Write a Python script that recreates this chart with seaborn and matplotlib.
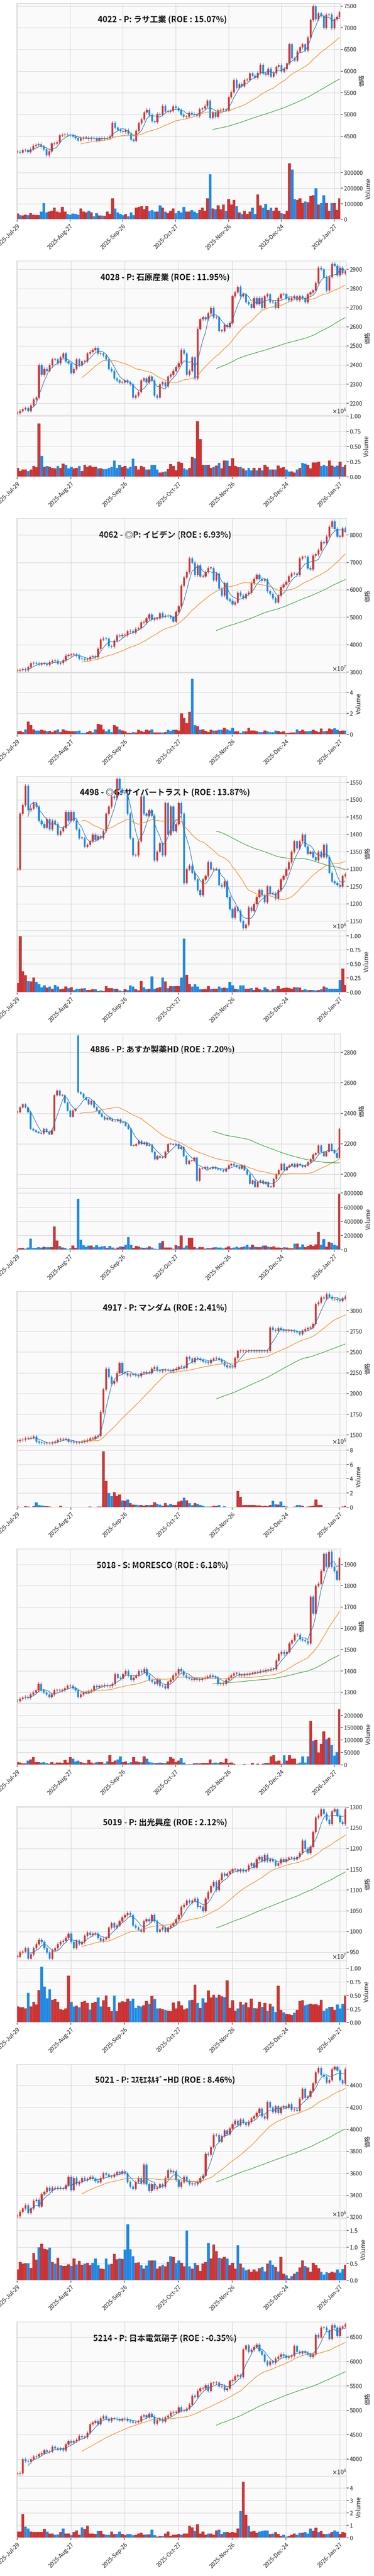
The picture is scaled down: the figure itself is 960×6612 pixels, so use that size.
import numpy as np
import pandas as pd
import matplotlib
matplotlib.use("Agg")
import matplotlib.pyplot as plt
import seaborn as sns

N = 123
tick_pos = [0, 20, 40, 60, 80, 100, 120]
tick_labels = ["2025-Jul-29", "2025-Aug-27", "2025-Sep-26", "2025-Oct-27",
               "2025-Nov-26", "2025-Dec-24", "2026-Jan-27"]

titles = ["4022 - P: ラサ工業 (ROE : 15.07%)",
          "4028 - P: 石原産業 (ROE : 11.95%)",
          "4062 - ◎P: イビデン (ROE : 6.93%)",
          "4498 - ◎G: サイバートラスト (ROE : 13.87%)",
          "4886 - P: あすか製薬HD (ROE : 7.20%)",
          "4917 - P: マンダム (ROE : 2.41%)",
          "5018 - S: MORESCO (ROE : 6.18%)",
          "5019 - P: 出光興産 (ROE : 2.12%)",
          "5021 - P: ｺｽﾓｴﾈﾙｷﾞｰHD (ROE : 8.46%)",
          "5214 - P: 日本電気硝子 (ROE : -0.35%)"]

c_4022 = [4140,4130,4180,4180,4140,4200,4280,4300,4320,4260,4200,4060,4150,4330,4330,4360,4520,4530,4540,4530,
          4520,4500,4460,4410,4450,4470,4470,4440,4460,4450,4400,4460,4440,4450,4460,4500,4810,4700,4650,4620,
          4600,4640,4560,4420,4400,4630,4800,4890,5050,5110,4990,4850,4830,5020,5000,5200,5070,5070,5080,5190,
          5150,5100,5000,4950,4950,5040,5020,5010,4970,5120,5140,5200,5320,4930,5050,4950,5100,5110,5120,5100,
          5400,5520,5800,5620,5700,5650,5800,5800,5950,5900,5850,5960,6150,5950,5920,6060,5880,5960,6100,6140,
          6000,6050,6180,6620,6300,6250,6450,6550,6620,6480,6780,7180,7500,7200,7330,7280,7000,7300,7310,6990,
          7200,7250,7360]
v_4022 = [38,28,25,30,27,40,30,28,28,50,105,45,50,55,75,50,45,80,50,35,
          30,38,35,30,70,50,45,55,45,20,40,25,25,22,50,35,135,70,45,35,
          28,35,20,45,28,75,80,85,65,85,55,60,50,50,90,75,50,40,55,70,
          40,55,45,80,50,50,60,50,40,60,75,55,135,290,70,65,90,65,95,55,
          130,95,125,85,45,35,55,35,50,75,35,160,90,75,100,60,75,55,75,55,
          40,35,55,360,320,130,125,135,105,115,110,150,155,200,95,105,155,105,55,105,
          105,60,135]

c_4028 = [2150,2160,2170,2175,2160,2190,2220,2230,2400,2350,2380,2370,2400,2430,2430,2410,2440,2460,2420,2410,
          2360,2380,2430,2400,2420,2420,2460,2470,2480,2490,2460,2460,2450,2430,2380,2370,2330,2320,2310,2310,
          2320,2310,2300,2230,2240,2260,2320,2330,2310,2340,2320,2240,2230,2300,2310,2290,2340,2350,2370,2390,
          2410,2480,2460,2350,2370,2440,2330,2590,2640,2650,2640,2670,2700,2650,2650,2580,2580,2610,2600,2620,
          2760,2780,2810,2760,2770,2730,2720,2700,2750,2720,2750,2700,2760,2770,2730,2730,2700,2750,2770,2770,
          2750,2740,2750,2760,2740,2760,2750,2730,2770,2780,2790,2830,2910,2900,2860,2790,2860,2930,2920,2870,
          2910,2880,2890]
v_4028 = [0.15,0.1,0.12,0.12,0.1,0.12,0.18,0.16,0.88,0.35,0.17,0.18,0.17,0.15,0.14,0.18,0.15,0.22,0.2,0.14,
          0.17,0.14,0.15,0.18,0.1,0.2,0.17,0.19,0.16,0.17,0.14,0.14,0.13,0.13,0.15,0.17,0.27,0.15,0.2,0.16,
          0.18,0.14,0.17,0.3,0.18,0.12,0.18,0.16,0.12,0.12,0.2,0.2,0.12,0.07,0.08,0.09,0.13,0.21,0.18,0.11,
          0.25,0.23,0.14,0.12,0.15,0.33,0.31,0.92,0.62,0.2,0.2,0.2,0.15,0.17,0.19,0.23,0.14,0.27,0.27,0.18,
          0.31,0.18,0.16,0.17,0.14,0.11,0.15,0.11,0.15,0.11,0.15,0.11,0.2,0.17,0.12,0.12,0.12,0.19,0.15,0.16,
          0.12,0.09,0.09,0.07,0.12,0.15,0.23,0.22,0.2,0.14,0.24,0.24,0.25,0.18,0.2,0.18,0.27,0.19,0.17,0.19,
          0.25,0.17,0.2]

c_4062 = [3060,3080,3110,3070,3180,3330,3330,3320,3290,3320,3320,3270,3370,3410,3420,3320,3340,3440,3600,3620,
          3650,3650,3600,3500,3480,3460,3470,3550,3580,3550,3850,4200,4230,4220,3950,3940,4150,4340,4320,4350,
          4350,4490,4510,4450,4580,4600,4820,4820,4960,5100,4920,4950,4960,5150,5030,5060,5040,5000,4850,5200,
          5400,6150,6450,6650,7150,7000,6550,6900,6500,6500,6650,6800,6800,6350,6600,6050,5800,6250,5660,5600,
          5480,5550,5900,5800,5700,5850,5900,6250,6400,6550,6400,6340,6380,5950,5850,5700,5550,5800,6100,6200,
          6300,6500,6600,6600,6550,7150,7200,7200,6800,6750,7250,7300,7450,7750,7700,7950,8300,8500,8230,7950,
          7950,8250,8150]
v_4062 = [3,3.5,2.5,5,12.5,9,5,4,4,4.5,4,3,3.5,2.5,4,5,2.5,5,4,3.5,
          3,3,3.5,4,1.5,1.5,2.5,3.5,2,5,10,9.5,5,3,5,2.5,9,7.5,5,4,
          3,1.5,1.5,2.5,2,4.5,3.5,2.5,4.5,4,5,2,2,2,2,2.5,4.5,3.5,4.5,4.5,
          4,20,15.5,11,21.5,53,9,8,4.5,5,3.5,2.5,4.5,4,4,4.5,4.5,6.5,5,4,
          6.5,3,3,1.5,3,3,6.5,4,4,3,2.5,2.5,4,3,2.5,2.5,4,3.5,2.5,3,
          1.3,1.5,2,2,5,3.5,4.5,3,3,3.5,4.5,3.5,2.5,5.5,3,3.5,5.5,5,6,4.5,
          3.5,4,4]

c_4498 = [1300,1460,1485,1540,1470,1475,1490,1480,1440,1430,1420,1445,1415,1440,1430,1400,1410,1420,1465,1440,
          1465,1440,1415,1390,1390,1365,1370,1380,1400,1385,1395,1390,1410,1460,1480,1510,1505,1560,1530,1520,
          1520,1460,1390,1340,1340,1380,1510,1460,1455,1470,1455,1325,1350,1375,1340,1490,1400,1480,1410,1430,
          1490,1460,1260,1300,1310,1290,1270,1240,1225,1270,1280,1320,1300,1300,1300,1255,1250,1265,1220,1185,
          1160,1190,1180,1150,1130,1140,1190,1180,1200,1220,1240,1225,1205,1250,1230,1230,1215,1240,1270,1280,
          1300,1320,1350,1380,1360,1380,1400,1365,1345,1350,1335,1325,1350,1335,1370,1335,1290,1265,1260,1255,
          1250,1280,1285]
v_4498 = [0.16,0.99,0.37,0.3,0.2,0.19,0.26,0.18,0.14,0.09,0.12,0.08,0.1,0.06,0.13,0.1,0.05,0.06,0.1,0.07,
          0.09,0.04,0.06,0.06,0.065,0.07,0.04,0.04,0.05,0.05,0.02,0.03,0.02,0.11,0.07,0.07,0.06,0.06,0.03,0.02,
          0.05,0.04,0.12,0.1,0.05,0.03,0.2,0.09,0.05,0.06,0.28,0.06,0.07,0.09,0.26,0.19,0.07,0.11,0.11,0.11,
          0.11,0.26,0.95,0.31,0.14,0.1,0.14,0.1,0.05,0.05,0.05,0.11,0.06,0.06,0.06,0.1,0.07,0.08,0.07,0.18,
          0.12,0.06,0.05,0.12,0.12,0.06,0.06,0.07,0.04,0.08,0.05,0.04,0.09,0.05,0.03,0.05,0.06,0.11,0.06,0.07,
          0.08,0.07,0.06,0.09,0.09,0.08,0.04,0.05,0.04,0.04,0.04,0.03,0.04,0.05,0.1,0.08,0.06,0.06,0.06,0.06,
          0.22,0.42,0.13]

c_4886 = [2410,2440,2460,2440,2410,2300,2290,2280,2275,2270,2300,2280,2265,2290,2520,2550,2520,2520,2470,2420,
          2380,2420,2430,2540,2530,2505,2490,2460,2480,2440,2420,2400,2380,2360,2370,2360,2350,2350,2360,2340,
          2340,2320,2300,2190,2190,2200,2220,2200,2210,2190,2195,2150,2100,2120,2110,2110,2150,2200,2200,2195,
          2200,2170,2180,2120,2070,2090,2090,2110,1960,2040,2040,2050,2040,2040,2050,2040,2035,2030,2020,2040,
          2060,2070,2060,2050,2040,2060,2030,2000,1940,1960,1920,1950,1960,1940,1950,1920,1920,1970,2000,2030,
          2070,2030,2050,2060,2070,2050,2070,2060,2050,2060,2080,2100,2130,2140,2190,2150,2120,2150,2200,2160,
          2140,2110,2300]
v_4886 = [15,25,25,18,30,160,25,25,35,30,45,35,35,35,330,130,55,30,25,10,
          20,60,25,720,140,65,45,60,60,40,65,35,50,55,25,55,30,15,30,50,
          45,70,180,70,25,55,45,30,25,30,50,30,15,10,100,125,30,30,30,15,
          65,55,200,30,60,170,170,40,20,35,35,15,25,20,30,35,30,30,20,30,
          50,20,30,45,30,35,50,70,40,70,45,40,40,60,60,45,40,50,30,30,
          25,40,30,20,20,85,85,40,75,40,55,70,55,75,250,70,155,45,110,100,
          70,60,790]

c_4917 = [1430,1440,1445,1460,1465,1470,1480,1420,1410,1405,1400,1400,1400,1410,1420,1440,1450,1450,1450,1420,
          1420,1410,1410,1410,1420,1430,1440,1460,1460,1480,1490,1780,2050,2300,2200,2120,2150,2250,2370,2250,
          2250,2220,2230,2230,2220,2210,2250,2250,2260,2250,2300,2320,2280,2270,2280,2290,2280,2270,2290,2300,
          2320,2330,2310,2440,2420,2380,2430,2420,2410,2390,2380,2370,2410,2420,2430,2410,2380,2340,2320,2330,
          2320,2430,2515,2515,2515,2515,2515,2515,2515,2515,2515,2515,2515,2515,2800,2770,2760,2790,2770,2760,
          2760,2760,2760,2750,2740,2720,2760,2780,2790,2800,2840,3080,3100,3160,3150,3200,3170,3140,3140,3130,
          3120,3150,3170]
v_4917 = [0.1,0.05,0.05,0.15,0.12,0.08,0.15,0.7,0.35,0.25,0.2,0.15,0.1,0.05,0.05,0.05,0.2,0.05,0.05,0.05,
          0.05,0.05,0.05,0.05,0.05,0.05,0.05,0.1,0.05,0.05,0.1,0.12,7.8,3.7,2.0,1.6,2.1,1.6,1.8,1.0,
          0.9,1.1,0.6,0.4,0.4,0.3,0.3,0.2,0.3,0.3,0.3,0.7,0.5,0.4,0.2,0.6,0.3,0.5,0.3,0.3,
          0.8,0.9,1.35,1.0,0.6,0.35,0.6,0.5,0.3,0.2,0.1,0.1,0.1,0.2,0.2,0.35,0.05,0.15,0.05,0.05,
          0.05,0.05,2.3,1.45,0.35,0.35,0.3,0.3,0.3,0.25,0.25,0.15,0.2,0.15,0.3,0.9,0.45,0.4,0.8,0.2,
          0.1,0.05,0.05,0.1,0.3,0.3,0.2,0.05,0.1,0.15,0.2,1.1,0.3,0.3,0.05,0.05,0.02,0.02,0.02,0.02,
          0.02,0.1,0.2]

c_5018 = [1260,1270,1275,1280,1275,1290,1300,1310,1340,1310,1300,1290,1280,1290,1310,1310,1310,1310,1320,1330,
          1330,1320,1310,1280,1290,1300,1300,1305,1310,1330,1325,1330,1330,1335,1330,1330,1340,1385,1370,1365,
          1385,1400,1380,1360,1370,1380,1400,1395,1410,1380,1360,1350,1340,1360,1330,1330,1320,1350,1360,1380,
          1390,1410,1400,1380,1370,1365,1360,1365,1360,1360,1365,1370,1375,1380,1375,1370,1340,1340,1340,1360,
          1370,1380,1390,1390,1380,1380,1385,1385,1390,1390,1395,1395,1400,1400,1405,1405,1410,1410,1450,1480,
          1490,1480,1490,1530,1545,1570,1570,1550,1545,1540,1530,1750,1670,1800,1810,1870,1950,1890,1960,1890,
          1870,1830,1930]
v_5018 = [12,10,6,7,18,22,32,12,12,10,12,8,5,12,5,10,10,8,20,10,
          32,25,15,18,12,8,6,20,10,6,12,12,12,5,15,40,12,18,22,35,
          12,14,8,12,32,15,12,12,35,25,12,10,8,8,10,8,8,15,32,25,
          12,18,28,10,3,3,3,6,8,6,8,8,8,22,8,10,8,12,10,25,
          8,10,5,1,1,2,3,2,2,8,1,5,2,5,8,8,35,40,15,18,
          5,40,18,40,25,25,5,10,35,10,35,178,98,100,50,85,135,103,110,80,
          38,52,225]

c_5019 = [940,950,952,960,935,945,960,970,980,975,960,950,935,955,960,970,975,978,985,995,
          975,960,978,970,975,990,998,992,995,995,985,978,982,985,1010,1020,1010,1015,1025,1035,
          1040,1045,1040,1015,1010,1005,1000,1025,1030,1025,1040,1025,1000,1005,1010,1000,1010,1015,1020,1030,
          1040,1060,1065,1075,1070,1075,1080,1060,1060,1050,1080,1095,1110,1120,1100,1125,1140,1135,1140,1145,
          1150,1150,1145,1150,1145,1148,1160,1165,1155,1175,1180,1170,1185,1170,1175,1170,1160,1165,1175,1170,
          1175,1178,1178,1175,1180,1190,1220,1200,1190,1205,1240,1275,1280,1295,1285,1270,1260,1290,1295,1280,
          1265,1260,1295]
v_5019 = [3.0,2.8,2.8,2.6,5.5,3.0,3.8,3.3,6.0,10.3,6.6,4.5,6.1,4.2,4.3,3.8,2.5,2.3,2.6,8.6,
          3.8,3.0,3.1,2.8,3.8,4.0,3.6,2.4,3.6,3.8,4.6,3.0,4.1,5.0,2.9,2.1,5.0,2.1,3.7,3.9,
          3.8,4.4,4.0,4.4,2.7,3.1,3.0,3.2,4.0,3.5,4.9,4.3,2.6,2.6,2.5,2.3,2.2,2.1,3.7,2.6,
          3.9,3.2,2.4,2.6,4.1,4.2,7.0,3.6,2.7,4.5,3.7,5.9,4.6,5.1,4.6,5.1,4.8,4.7,7.8,2.7,
          4.1,2.2,2.6,3.8,3.3,3.7,2.8,4.4,2.7,2.6,3.8,2.9,3.6,2.2,3.5,3.0,2.0,6.8,2.3,1.9,
          1.6,1.5,1.4,1.8,2.3,4.0,4.1,3.2,3.3,3.5,3.3,3.4,3.2,4.2,2.2,2.6,2.9,2.9,2.3,3.3,
          2.6,3.5,5.0]

c_5021 = [3210,3250,3280,3310,3240,3280,3350,3360,3300,3410,3430,3470,3440,3470,3460,3470,3460,3460,3490,3570,
          3450,3560,3500,3520,3560,3540,3550,3570,3550,3530,3520,3560,3600,3590,3570,3570,3590,3610,3600,3620,
          3600,3520,3480,3460,3520,3560,3510,3680,3500,3440,3500,3460,3470,3500,3480,3560,3630,3610,3620,3540,
          3480,3520,3570,3530,3500,3510,3500,3520,3560,3580,3780,3770,3840,3950,3950,3890,3940,3990,3960,4010,
          4050,4080,4040,4090,4060,4040,4070,4100,4120,4150,4190,4120,4100,4250,4200,4160,4210,4150,4200,4210,
          4200,4230,4180,4180,4170,4280,4370,4290,4300,4350,4420,4520,4560,4500,4480,4430,4450,4550,4570,4540,
          4450,4420,4550]
v_5021 = [0.32,0.55,0.5,0.51,0.51,0.37,0.82,0.62,1.0,1.1,0.95,0.92,0.98,0.55,0.5,0.68,0.45,0.43,0.43,0.48,
          0.43,0.65,0.48,0.58,0.47,0.5,0.52,0.46,0.52,0.65,0.46,0.35,0.34,0.66,0.48,0.49,0.79,0.63,0.65,0.64,
          0.92,1.69,0.94,0.72,0.52,0.54,0.45,0.35,0.44,0.6,0.59,0.59,0.35,0.42,0.47,0.42,0.55,0.73,0.7,0.53,
          0.6,0.52,0.42,1.5,0.42,0.35,0.52,0.45,0.28,0.5,0.55,1.12,0.65,1.08,0.88,0.68,0.65,0.7,0.66,0.46,
          0.53,0.35,1.05,0.5,0.38,0.3,0.32,0.26,0.33,0.27,0.36,0.4,0.27,0.5,0.6,0.47,0.4,0.27,0.7,0.2,
          0.15,0.06,0.12,0.2,0.26,0.38,0.6,0.43,0.38,0.26,0.52,0.46,0.36,0.26,0.17,0.24,0.22,0.26,0.23,0.33,
          0.23,0.34,0.47]

c_5214 = [3700,3710,4000,3960,3950,4000,4050,4060,4100,4120,4180,4150,4160,4250,4220,4200,4220,4180,4300,4370,
          4340,4370,4400,4480,4450,4450,4540,4720,4750,4780,4720,4840,4880,4830,4780,4830,4830,4820,4800,4820,
          4830,4790,4770,4750,4760,4770,4880,4900,4860,4930,4870,4730,4800,4830,4770,4860,4890,4950,4960,4960,
          5060,4990,5000,5040,5120,5300,5280,5400,5450,5450,5520,5400,5560,5560,5570,5490,5500,5420,5450,5600,
          5620,5700,5720,5680,6250,6330,6200,6240,6300,6350,6220,6150,6000,5930,6000,5980,6060,6100,6150,6120,
          6080,6100,6120,6320,6200,6170,6200,6180,6150,6100,6150,6550,6500,6700,6700,6640,6470,6750,6700,6530,
          6700,6720,6760]
v_5214 = [0.5,0.5,1.9,0.9,0.75,0.5,0.45,0.45,0.45,0.45,0.7,0.5,0.35,0.35,0.25,0.28,0.45,0.75,0.35,0.35,
          0.22,0.45,0.6,0.25,0.85,0.7,0.95,0.35,0.35,0.3,0.55,0.55,0.3,0.25,0.25,0.5,0.3,0.3,0.5,0.3,
          0.2,0.3,0.3,0.2,0.25,0.35,0.4,0.25,0.28,0.28,0.65,0.2,0.1,0.15,0.15,0.35,0.5,0.15,0.25,0.25,
          0.3,0.25,0.35,0.35,0.95,0.85,0.55,1.1,0.35,0.5,0.25,0.35,0.35,0.25,0.6,0.65,0.3,0.45,0.45,0.4,
          0.45,0.4,0.75,2.15,4.5,1.85,0.95,0.5,0.55,0.4,0.5,0.55,0.6,0.6,0.3,0.35,0.45,0.3,0.15,0.25,
          0.1,0.15,0.25,0.35,0.25,0.4,0.4,0.45,0.35,0.75,0.55,0.8,0.45,0.55,0.3,0.3,0.35,0.45,0.6,0.5,
          0.3,0.45,0.4]

closes = [c_4022, c_4028, c_4062, c_4498, c_4886, c_4917, c_5018, c_5019, c_5021, c_5214]
volumes = [v_4022, v_4028, v_4062, v_4498, v_4886, v_4917, v_5018, v_5019, v_5021, v_5214]
vol_unit = [1e3, 1e6, 1e6, 1e6, 1e3, 1e6, 1e3, 1e6, 1e6, 1e6]
open_override = {4: {23: 2910}}

sns.set_theme(style="whitegrid")
plt.rcParams['font.family'] = ['Noto Sans CJK JP', 'DejaVu Sans']

W, H = 960, 6612
PH = 661.2
fig = plt.figure(figsize=(W / 100, H / 100), dpi=100)

UP, DN = '#d03434', '#1e88e5'
UP_E, DN_E = '#b02a2a', '#4a9be0'


def fix(lst):
    lst = list(lst)[:N]
    while len(lst) < N:
        lst.append(lst[-1])
    return np.array(lst, dtype=float)


def style(ax):
    ax.set_facecolor('#fafafa')
    ax.grid(True, color='#d4d4d4', lw=0.9)
    for s in ax.spines.values():
        s.set_color('#dddddd')
    ax.yaxis.tick_right()
    ax.yaxis.set_label_position('right')
    ax.tick_params(axis='y', right=True, left=False, length=4, color='#555555',
                   labelsize=10.5, pad=2)
    ax.set_xlim(-0.2, N - 0.6)
    ax.set_xticks(tick_pos)


for k in range(10):
    c = fix(closes[k])
    v = fix(volumes[k]) * vol_unit[k]
    o = np.r_[c[0], c[:-1]]
    for i, val in open_override.get(k, {}).items():
        o[i] = val
    rng = c.max() - c.min()
    w = 0.012 * rng
    hi = np.maximum(o, c) + w
    lo = np.minimum(o, c) - w
    x = np.arange(N)
    up = c >= o
    col = np.where(up, UP, DN)
    ecol = np.where(up, UP_E, DN_E)

    right = 874 if vol_unit[k] == 1e3 else 889
    top = k * PH
    axp = fig.add_axes([43 / W, 1 - (top + 405) / H, (right - 43) / W, 396 / H])
    axv = fig.add_axes([43 / W, 1 - (top + 563) / H, (right - 43) / W, 158 / H], sharex=axp)
    style(axp)
    style(axv)

    axp.vlines(x, lo, hi, colors=col, lw=0.9)
    body = np.maximum(np.abs(c - o), rng * 0.003)
    axp.bar(x, body, bottom=np.minimum(o, c), width=0.62, color=col,
            edgecolor=col, linewidth=0.4)
    s = pd.Series(c)
    for win, mc in [(5, '#1f77b4'), (25, '#ff7f0e'), (75, '#2ca02c')]:
        sns.lineplot(x=x, y=s.rolling(win).mean().values, ax=axp, color=mc, lw=1.0)
    axp.set_ylim(lo.min() - rng * 0.005, hi.max() + rng * 0.005)
    axp.set_ylabel('価格', fontsize=11)
    axp.tick_params(axis='x', labelbottom=False, length=0)
    axp.text(0.45, 0.895, titles[k], transform=axp.transAxes, ha='center', va='center',
             fontsize=15, fontweight='bold', color='#111111', zorder=0)

    axv.bar(x, v, width=0.95, color=col, edgecolor=ecol, linewidth=0.5)
    axv.set_ylim(0, v.max() * 1.1)
    axv.set_ylabel('Volume', fontsize=11)
    axv.ticklabel_format(axis='y', style='sci', scilimits=(-5, 6), useMathText=True)
    axv.set_xticks(tick_pos)
    axv.set_xticklabels(tick_labels, rotation=45, ha='right', rotation_mode='anchor',
                        fontsize=10.5)
    axv.tick_params(axis='x', length=4, color='#555555', bottom=True)

fig.savefig('out.png', dpi=100)
